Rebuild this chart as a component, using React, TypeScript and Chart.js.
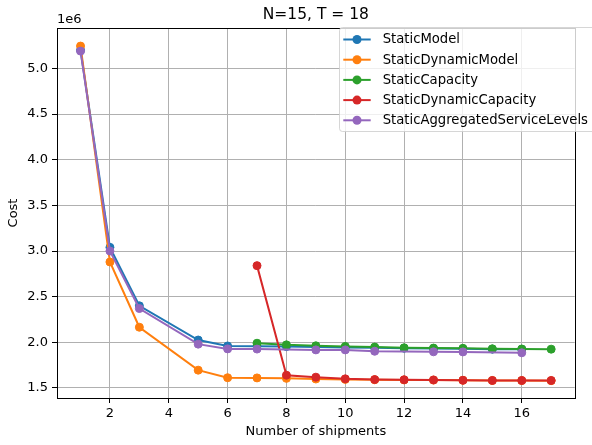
import React, { useEffect, useRef } from 'react';
import { Chart, registerables } from 'chart.js';
Chart.register(...registerables);

const chartTitle = 'N=15, T = 18';
const xAxisTitle = 'Number of shipments';
const yAxisTitle = 'Cost';
const offsetLabel = '1e6';

const seriesNames = [
  'StaticModel',
  'StaticDynamicModel',
  'StaticCapacity',
  'StaticDynamicCapacity',
  'StaticAggregatedServiceLevels',
];
const seriesColors = ['#1f77b4', '#ff7f0e', '#2ca02c', '#d62728', '#9467bd'];

const staticModelX = [1, 2, 3, 5, 6, 7, 8, 9, 10, 11, 12, 13, 14, 15, 16];
const staticModelY = [5200000, 3040000, 2400000, 2025000, 1960000, 1958000, 1953000, 1948000, 1944000, 1940000, 1935000, 1931000, 1929000, 1925000, 1924000];

const staticDynamicModelX = [1, 2, 3, 5, 6, 7, 8, 9, 10, 11, 12, 13, 14, 15, 16, 17];
const staticDynamicModelY = [5245000, 2880000, 2165000, 1695000, 1612000, 1610000, 1605000, 1598000, 1594000, 1590000, 1588000, 1586000, 1584000, 1582000, 1581000, 1580000];

const staticCapacityX = [7, 8, 9, 10, 11, 12, 13, 14, 15, 16, 17];
const staticCapacityY = [1990000, 1972000, 1962000, 1955000, 1948000, 1940000, 1937000, 1934000, 1929000, 1927000, 1925000];

const staticDynamicCapacityX = [7, 8, 9, 10, 11, 12, 13, 14, 15, 16, 17];
const staticDynamicCapacityY = [2840000, 1640000, 1618000, 1600000, 1592000, 1590000, 1588000, 1584000, 1582000, 1582000, 1582000];

const staticAggregatedX = [1, 2, 3, 5, 6, 7, 9, 10, 11, 13, 14, 16];
const staticAggregatedY = [5190000, 3000000, 2370000, 1980000, 1928000, 1926000, 1917000, 1917000, 1902000, 1896000, 1895000, 1885000];

const seriesX = [staticModelX, staticDynamicModelX, staticCapacityX, staticDynamicCapacityX, staticAggregatedX];
const seriesY = [staticModelY, staticDynamicModelY, staticCapacityY, staticDynamicCapacityY, staticAggregatedY];

const xTicks = [2, 4, 6, 8, 10, 12, 14, 16];
const yTicks = [1500000, 2000000, 2500000, 3000000, 3500000, 4000000, 4500000, 5000000];

const FONT = 'DejaVu Sans';

const decorPlugin = {
  id: 'decor',
  afterDraw(chart: any) {
    const { ctx, chartArea } = chart;
    const { left, right, top, bottom } = chartArea;
    ctx.save();
    // frame
    ctx.strokeStyle = '#000';
    ctx.lineWidth = 1;
    ctx.strokeRect(Math.round(left) + 0.5, Math.round(top) + 0.5, Math.round(right - left), Math.round(bottom - top));
    // title
    ctx.fillStyle = '#000';
    ctx.font = `15.5px "${FONT}"`;
    ctx.textAlign = 'center';
    ctx.textBaseline = 'alphabetic';
    ctx.fillText(chartTitle, (left + right) / 2, top - 9);
    // offset label
    ctx.font = `13px "${FONT}"`;
    ctx.textAlign = 'left';
    ctx.fillText(offsetLabel, left, top - 5);
    // axis titles
    ctx.textAlign = 'center';
    ctx.textBaseline = 'middle';
    ctx.fillText(xAxisTitle, (left + right) / 2, 432);
    ctx.save();
    ctx.translate(14, (top + bottom) / 2);
    ctx.rotate(-Math.PI / 2);
    ctx.fillText(yAxisTitle, 0, 0);
    ctx.restore();
    // legend
    const lx = 339.5, ly = 27.5, lw = 262, lh = 104;
    const r = 3;
    ctx.beginPath();
    ctx.moveTo(lx + r, ly);
    ctx.lineTo(lx + lw - r, ly);
    ctx.quadraticCurveTo(lx + lw, ly, lx + lw, ly + r);
    ctx.lineTo(lx + lw, ly + lh - r);
    ctx.quadraticCurveTo(lx + lw, ly + lh, lx + lw - r, ly + lh);
    ctx.lineTo(lx + r, ly + lh);
    ctx.quadraticCurveTo(lx, ly + lh, lx, ly + lh - r);
    ctx.lineTo(lx, ly + r);
    ctx.quadraticCurveTo(lx, ly, lx + r, ly);
    ctx.closePath();
    ctx.fillStyle = 'rgba(255,255,255,0.8)';
    ctx.fill();
    ctx.strokeStyle = 'rgba(204,204,204,0.8)';
    ctx.lineWidth = 1;
    ctx.stroke();
    ctx.font = `13.2px "${FONT}"`;
    ctx.textAlign = 'left';
    ctx.textBaseline = 'middle';
    seriesNames.forEach((name, i) => {
      const y = 39.5 + i * 20.2;
      ctx.strokeStyle = seriesColors[i];
      ctx.lineWidth = 2;
      ctx.beginPath();
      ctx.moveTo(343.3, y);
      ctx.lineTo(370.7, y);
      ctx.stroke();
      ctx.fillStyle = seriesColors[i];
      ctx.beginPath();
      ctx.arc(357, y, 4.5, 0, Math.PI * 2);
      ctx.fill();
      ctx.fillStyle = '#000';
      ctx.fillText(name, 382.7, y + 0.5);
    });
    ctx.restore();
  },
};

export default function App() {
  const ref = useRef<HTMLCanvasElement | null>(null);
  useEffect(() => {
    if (!ref.current) return;
    document.body.style.margin = '0';
    const datasets = seriesNames.map((name, i) => ({
      label: name,
      data: seriesX[i].map((x, j) => ({ x, y: seriesY[i][j] })),
      borderColor: seriesColors[i],
      backgroundColor: seriesColors[i],
      pointBackgroundColor: seriesColors[i],
      pointBorderColor: seriesColors[i],
      pointRadius: 4,
      pointBorderWidth: 1,
      borderWidth: 2,
      fill: false,
      tension: 0,
      order: seriesNames.length - 1 - i,
    }));
    const tickFont = { family: FONT, size: 13 };
    const chart = new Chart(ref.current, {
      type: 'line',
      data: { datasets },
      plugins: [decorPlugin],
      options: {
        animation: false,
        responsive: false,
        devicePixelRatio: 1,
        layout: { padding: { left: 0, right: 17.3, top: 28, bottom: 0 } },
        plugins: { legend: { display: false }, tooltip: { enabled: false }, title: { display: false } },
        scales: {
          x: {
            type: 'linear',
            min: 0.2,
            max: 17.8,
            afterBuildTicks: (s: any) => { s.ticks = xTicks.map((v) => ({ value: v })); },
            afterFit: (s: any) => { s.height = 47; },
            ticks: { font: tickFont, color: '#000', padding: 3, maxRotation: 0, autoSkip: false, callback: (v: any) => String(v) },
            grid: { color: '#b0b0b0', lineWidth: 1, tickLength: 5, tickColor: '#000', drawTicks: true },
            border: { display: false },
          },
          y: {
            type: 'linear',
            min: 1390000,
            max: 5443000,
            afterBuildTicks: (s: any) => { s.ticks = yTicks.map((v) => ({ value: v })); },
            afterFit: (s: any) => { s.width = 57; },
            ticks: { font: tickFont, color: '#000', padding: 4, autoSkip: false, callback: (v: any) => (Number(v) / 1e6).toFixed(1) },
            grid: { color: '#b0b0b0', lineWidth: 1, tickLength: 5, tickColor: '#000', drawTicks: true },
            border: { display: false },
          },
        },
      },
    } as any);
    return () => chart.destroy();
  }, []);
  return (
    <div style={{ position: 'fixed', left: 0, top: 0, width: 592, height: 445, background: '#fff' }}>
      <canvas ref={ref} width={592} height={445} style={{ display: 'block', width: 592, height: 445 }} />
    </div>
  );
}
